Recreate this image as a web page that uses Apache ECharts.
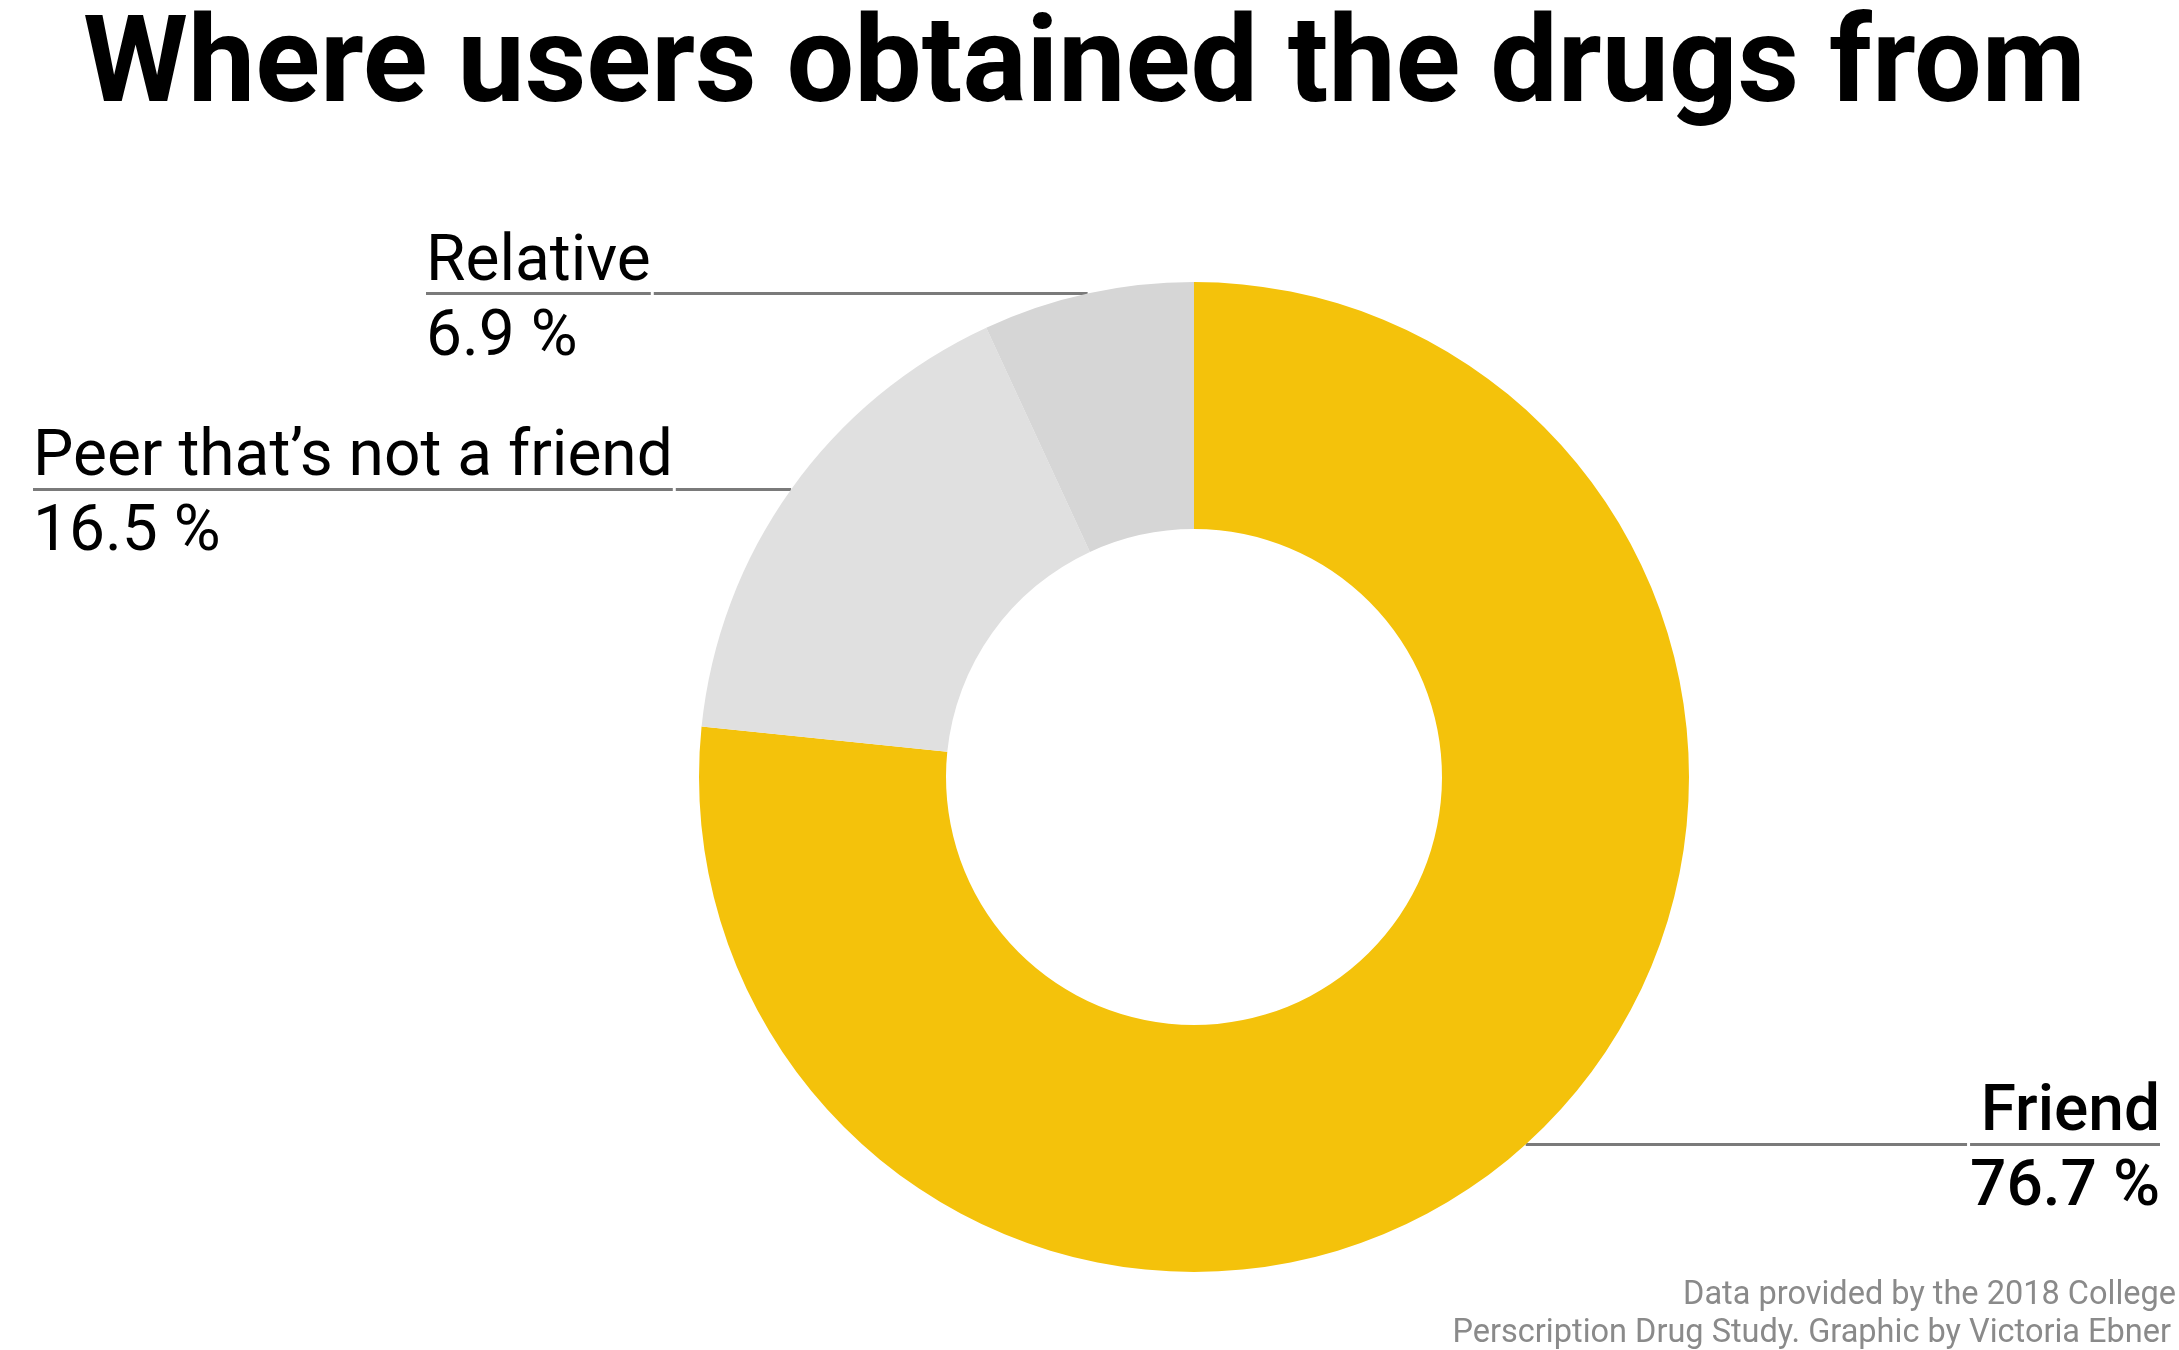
<!DOCTYPE html>
<html>
<head>
<meta charset="utf-8">
<style>
  html, body { margin: 0; padding: 0; background: #ffffff; }
  #chart { width: 2179px; height: 1350px; }
</style>
<script src="https://cdn.jsdelivr.net/npm/echarts@6/dist/echarts.min.js"></script>
</head>
<body>
<div id="chart"></div>
<script>
// ---- data ----
const categories = ['Friend', 'Peer that’s not a friend', 'Relative'];
const values = [76.7, 16.5, 6.9];
const titleText = 'Where users obtained the drugs from';
const footerLines = ['Data provided by the 2018 College', 'Perscription Drug Study. Graphic by Victoria Ebner'];

// ---- styles ----
const sliceColors = ['#F4C20B', '#E0E0E0', '#D6D6D6'];
const labelWeights = [500, 400, 400];
const labelEdge = [19, 33, 426];
const FONT = 'Roboto, "Noto Sans", sans-serif';

function richFor(weight) {
  return {
    n: { fontFamily: FONT, fontSize: 64, fontWeight: weight, color: '#000', lineHeight: 60 },
    hr: { width: '100%', height: 0, lineHeight: 0, borderWidth: 3, borderColor: '#7a7a7a' },
    v: { fontFamily: FONT, fontSize: 64, fontWeight: weight, color: '#000', lineHeight: 90 }
  };
}

const pieData = categories.map((name, i) => ({
  name: name,
  value: values[i],
  itemStyle: { color: sliceColors[i] },
  label: { edgeDistance: labelEdge[i], rich: richFor(labelWeights[i]) }
}));

const chart = echarts.init(document.getElementById('chart'), null, { renderer: 'canvas' });
chart.setOption({
  animation: false,
  backgroundColor: '#ffffff',
  title: [
    {
      text: titleText,
      left: 83, top: 11, padding: 0,
      textStyle: { fontFamily: FONT, fontSize: 120, fontWeight: 'bold', color: '#000', lineHeight: 120 }
    },
    {
      text: footerLines[0],
      right: 3, top: 1277, padding: 0,
      textStyle: { fontFamily: FONT, fontSize: 32.5, fontWeight: 'normal', color: '#8a8a8a', lineHeight: 37 }
    },
    {
      text: footerLines[1],
      right: 8, top: 1315, padding: 0,
      textStyle: { fontFamily: FONT, fontSize: 32.5, fontWeight: 'normal', color: '#8a8a8a', lineHeight: 37 }
    }
  ],
  series: [{
    type: 'pie',
    center: [1194, 777],
    radius: [248, 495],
    startAngle: 90,
    clockwise: true,
    avoidLabelOverlap: true,
    emphasis: { disabled: true },
    itemStyle: { borderWidth: 0 },
    label: {
      show: true,
      position: 'outside',
      alignTo: 'edge',
      distanceToLabelLine: 0,
      padding: [30, 0, 0, 0],
      formatter: '{n|{b}}\n{hr|}\n{v|{c} %}'
    },
    labelLine: {
      show: true,
      length: 0,
      length2: 10,
      lineStyle: { color: '#7a7a7a', width: 3 }
    },
    data: pieData
  }]
});
</script>
</body>
</html>
